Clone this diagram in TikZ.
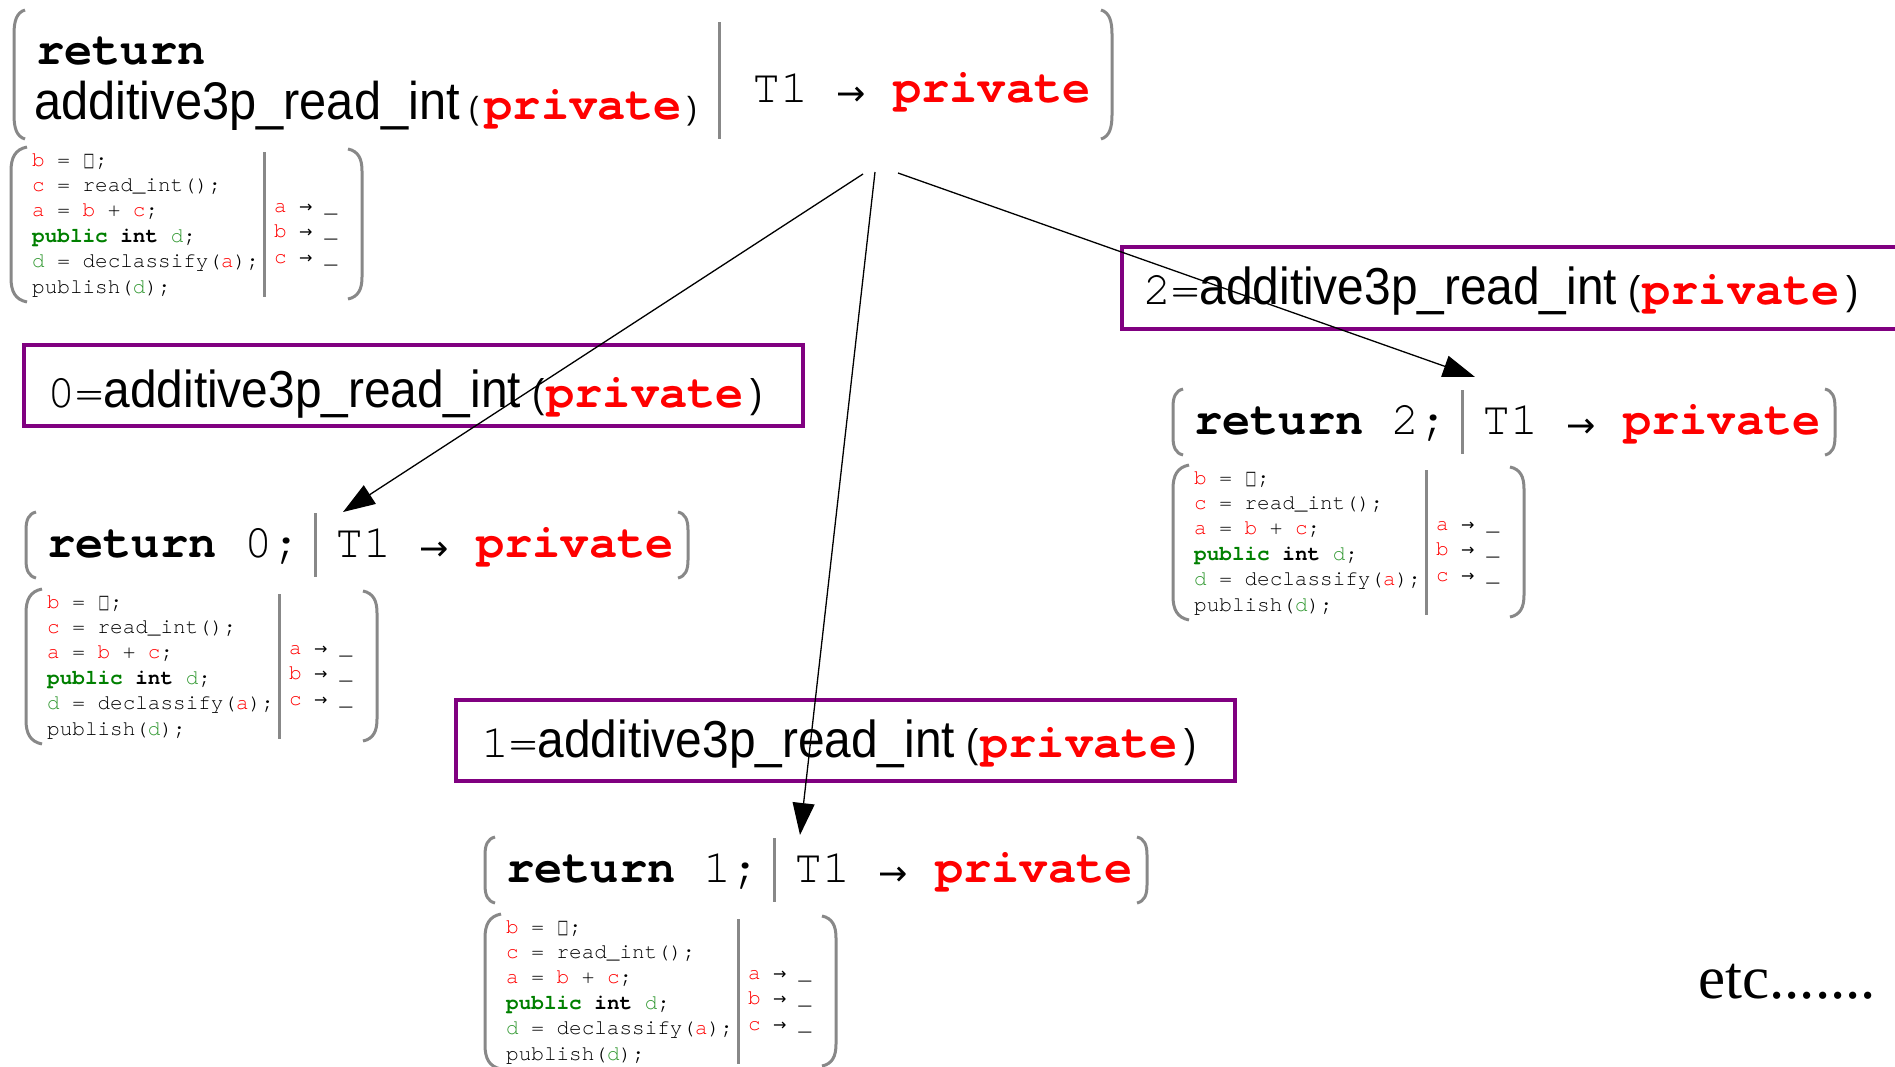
\documentclass[tikz,border=0pt]{standalone}
\usepackage{fontspec}
\usetikzlibrary{arrows.meta}
\setmainfont{Liberation Serif}
\newfontfamily\cur{TeX Gyre Cursor}
\newfontfamily\cond[FakeStretch=0.92]{Liberation Sans}
\newfontfamily\symf{DejaVu Sans}
\definecolor{pv}{RGB}{255,0,0}
\definecolor{pkw}{RGB}{0,128,0}
\definecolor{dg}{RGB}{51,153,51}
\definecolor{gbar}{RGB}{136,136,136}
\definecolor{pbord}{RGB}{128,0,128}
\newcommand\myred[1]{\textcolor{pv}{#1}}
\newcommand\mygrn[1]{\textcolor{dg}{#1}}
\newcommand\bigarr{\makebox[0.6em]{\raisebox{-3pt}{\symf\fontsize{35}{35}\selectfont →}}}
\newcommand\smarr{\makebox[0.6em]{\symf\fontsize{16}{16}\selectfont →}}
\newcommand\sqbox{\makebox[0.6em]{\scalebox{0.6}[1]{\symf\fontsize{19}{19}\selectfont □}}}
\newcommand\priv{{\bfseries\color{pv}private}}
\newcommand\callline[1]{#1={\cond\fontsize{52}{52}\selectfont additive3p\_read\_int}\hspace{11pt}{\cond\fontsize{40}{40}\selectfont(}\hspace{2pt}\priv\hspace{7pt}{\cond\fontsize{40}{40}\selectfont)}}
% left paren: #1 x, #2 top, #3 bottom, #4 curl width, #5 curl height
\newcommand\lpar[5]{\draw[gline] ({#1+#4},#2) .. controls ({#1+0.25*#4},{#2+0.1*#5}) and (#1,{#2+0.45*#5}) .. (#1,{#2+#5}) -- (#1,{#3-#5}) .. controls (#1,{#3-0.45*#5}) and ({#1+0.25*#4},{#3-0.1*#5}) .. ({#1+#4},#3);}
\newcommand\rpar[5]{\draw[gline] ({#1-#4},#2) .. controls ({#1-0.25*#4},{#2+0.1*#5}) and (#1,{#2+0.45*#5}) .. (#1,{#2+#5}) -- (#1,{#3-#5}) .. controls (#1,{#3-0.45*#5}) and ({#1-0.25*#4},{#3-0.1*#5}) .. ({#1-#4},#3);}
\tikzset{
  bigtxt/.style={font=\cur\fontsize{47}{50}\selectfont, inner sep=0pt, anchor=base west},
  codetxt/.style={font=\cur\fontsize{21}{25}\selectfont, inner sep=0pt, anchor=base west},
  gline/.style={draw=gbar, line width=3pt},
  pbox/.style={draw=pbord, line width=3.5pt, inner sep=0pt, anchor=north west},
  arr/.style={line width=1.3pt, -{Triangle[length=32pt,width=22pt]}},
  etctxt/.style={font=\fontsize{61}{61}\selectfont, inner sep=0pt, anchor=base west}
}
\newcommand\statebox[4]{%
  \begin{scope}[shift={(#2,#3)}]
    \lpar{-21}{-45}{21}{10}{18}
    \node[bigtxt] (#1-ret) at (0,0) {{\bfseries return} #4;};
    \draw[gline] (268,-44) -- (268,20);
    \node[bigtxt] (#1-ty) at (288,0) {T1 \bigarr{} \priv};
    \rpar{641}{-45}{21}{10}{18}
  \end{scope}}
\newcommand\codebox[3]{%
  \begin{scope}[shift={(#2,#3)}]
    \lpar{-21}{-19}{136}{16}{24}
    \node[codetxt] (#1-l1) at (0,0) {\myred{b} = \sqbox;};
    \node[codetxt] (#1-l2) at (0,25.4) {\myred{c} = read\_int();};
    \node[codetxt] (#1-l3) at (0,50.8) {\myred{a} = \myred{b} + \myred{c};};
    \node[codetxt] (#1-l4) at (0,76.2) {\textcolor{pkw}{\bfseries public} {\bfseries int} \mygrn{d};};
    \node[codetxt] (#1-l5) at (0,101.6) {\mygrn{d} = declassify(\myred{a});};
    \node[codetxt] (#1-l6) at (0,127) {publish(\mygrn{d});};
    \draw[gline] (232,-14) -- (232,131);
    \node[codetxt] (#1-a) at (242,46) {\myred{a} \smarr{} \_};
    \node[codetxt] (#1-b) at (242,71.5) {\myred{b} \smarr{} \_};
    \node[codetxt] (#1-c) at (242,97) {\myred{c} \smarr{} \_};
    \rpar{330}{-17}{133}{14}{22}
  \end{scope}}
\begin{document}
\begin{tikzpicture}[x=1pt,y=-1pt]
\useasboundingbox (0,0) rectangle (1895,1066);
\fill[white] (0,0) rectangle (1895,1066);
% top state
\lpar{14}{10}{139}{11}{24}
\node[bigtxt] (top-ret) at (36,64) {\bfseries return};
\node[bigtxt] (top-call) at (34,119) {{\cond\fontsize{53}{53}\selectfont additive3p\_read\_int}\hspace{9pt}{\cond\fontsize{32}{32}\selectfont(}\hspace{6pt}\priv\hspace{5pt}{\cond\fontsize{32}{32}\selectfont)}};
\draw[gline] (719,22) -- (719,139);
\node[bigtxt] (top-ty) at (752,102) {T1 \bigarr{} \priv};
\rpar{1112}{10}{139}{11}{24}
\codebox{topc}{32}{166}
% purple call boxes
\node[pbox, minimum width=779pt, minimum height=81pt] (p0) at (22,343) {};
\node[bigtxt] (p0-t) at (47,407) {\callline{0}};
\node[pbox, minimum width=779pt, minimum height=81pt] (p1) at (454,698) {};
\node[bigtxt] (p1-t) at (481,757) {\callline{1}};
\node[pbox, minimum width=800pt, minimum height=82pt] (p2) at (1120,245) {};
\node[bigtxt] (p2-t) at (1143,304) {\callline{2}};
% result states
\statebox{s0}{47}{557}{0}
\codebox{c0}{47}{608}
\statebox{s2}{1194}{434}{2}
\codebox{c2}{1194}{484}
\statebox{s1}{506}{882}{1}
\codebox{c1}{506}{933}
\node[etctxt] (etc) at (1698,998) {etc.......};
% arrows
\coordinate (a0) at (863,174);
\coordinate (a1) at (875,172);
\coordinate (a2) at (898,173);
\coordinate (t0) at (343,512);
\coordinate (t1) at (800,835);
\coordinate (t2) at (1475,377);
\draw[arr] (a0) -- (t0);
\draw[arr] (a1) -- (t1);
\draw[arr] (a2) -- (t2);
\end{tikzpicture}
\end{document}
